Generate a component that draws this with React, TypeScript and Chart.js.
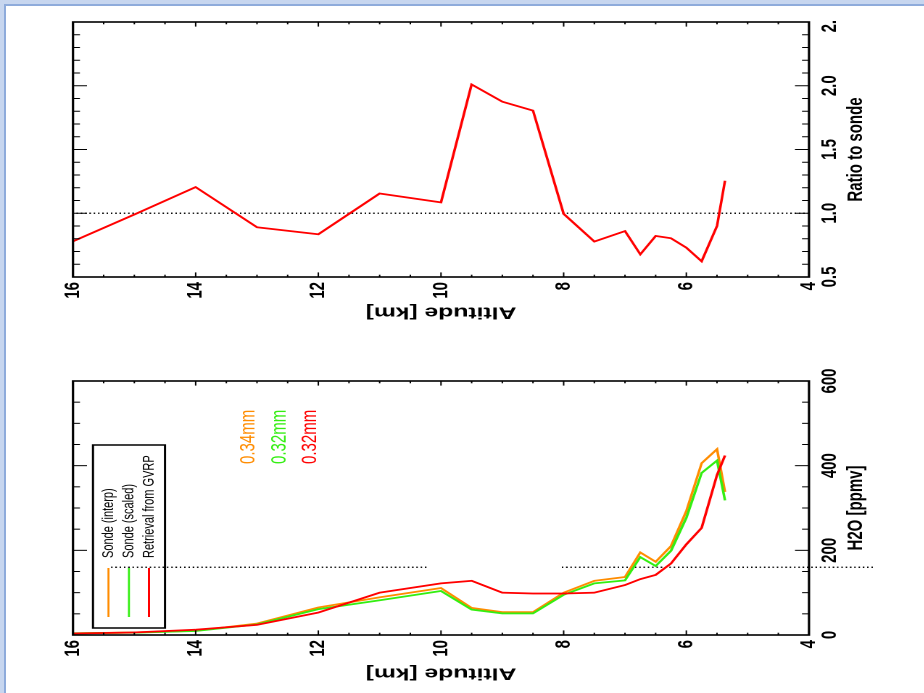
import React, { useEffect, useRef } from 'react';
import { Chart, registerables } from 'chart.js';

Chart.register(...registerables);

// ---------- data ----------
const altitudes = [16, 15, 14, 13, 12, 11, 10, 9.5, 9, 8.5, 8, 7.5, 7, 6.75, 6.5, 6.25, 6, 5.75, 5.5, 5.37];
const sondeInterp = [4, 6, 10, 27, 65, 89, 111, 64, 54, 54, 100, 128, 137, 195, 173, 210, 293, 406, 439, 338];
const sondeScaled = [4, 5.5, 9.5, 25, 61, 82, 104, 60, 51, 51, 95, 122, 129, 184, 163, 199, 277, 383, 412, 318];
const retrieval = [3.5, 6, 12.5, 24, 53, 100, 122, 128, 100, 98, 98, 100, 118, 132, 142, 169, 214, 253, 378, 424];
const ratioToSonde = [0.78, 0.99, 1.205, 0.89, 0.835, 1.155, 1.085, 2.01, 1.875, 1.805, 0.995, 0.778, 0.86, 0.678, 0.822, 0.804, 0.73, 0.623, 0.9, 1.255];

const seriesLabels = ['Sonde (interp)', 'Sonde (scaled)', 'Retrieval from GVRP'];
const columnTotals = ['0.34mm', '0.32mm', '0.32mm'];
const seriesColors = ['#ff8c00', '#33ee11', '#ff0000'];

const markerH2O = 160;
const markerSegmentA = [15.38, 10.22];
const markerSegmentB = [8.03, 2.92];
const ratioReference = 1.0;

const altAxis = { min: 4, max: 16, major: 2, minor: 0.5 };
const h2oAxis = { min: 0, max: 600, major: 200, minor: 50 };
const ratioAxis = { min: 0.5, max: 2.5, major: 0.5, minor: 0.1 };

// ---------- layout (rotated frame) ----------
const S = 1.45; // vertical stretch of the rotated frame
const OW = 693; // frame width (= page height)
const OH = Math.round(924 / S);
const dv = (xPage: number) => xPage / S; // page x -> frame y
const du = (yPage: number) => OW - yPage; // page y -> frame x

const PLOT_TOP = dv(73);
const PLOT_BOTTOM = dv(809);
const FONT = "'Liberation Sans', Arial, Helvetica, sans-serif";

const TICK_SIZE = 15;
const XTITLE_SIZE = 15;
const YTITLE_SIZE = 17;

const LEFT_W = 340;
const RIGHT_X = 340;
const RIGHT_W = Math.round(du(20)) - RIGHT_X;

function idlBoxPlugin(xa: any, ya: any) {
  return {
    id: 'idlBox',
    afterDraw(chart: any) {
      const { ctx, chartArea: a, scales } = chart;
      const xs = scales.x;
      const ys = scales.y;
      ctx.save();
      ctx.strokeStyle = '#000';
      ctx.lineWidth = 1;
      const seg = (x1: number, y1: number, x2: number, y2: number) => {
        ctx.beginPath();
        ctx.moveTo(x1, y1);
        ctx.lineTo(x2, y2);
        ctx.stroke();
      };
      const nx = Math.round((xa.max - xa.min) / xa.minor);
      for (let i = 0; i <= nx; i++) {
        const v = xa.min + i * xa.minor;
        const r = v / xa.major;
        const major = Math.abs(r - Math.round(r)) < 1e-6;
        const L = major ? 14 / S : 7 / S;
        const px = xs.getPixelForValue(v);
        seg(px, a.bottom, px, a.bottom - L);
        seg(px, a.top, px, a.top + L);
      }
      const ny = Math.round((ya.max - ya.min) / ya.minor);
      for (let i = 0; i <= ny; i++) {
        const v = ya.min + i * ya.minor;
        const r = v / ya.major;
        const major = Math.abs(r - Math.round(r)) < 1e-6;
        const L = major ? 4.6 : 2.3;
        const py = ys.getPixelForValue(v);
        seg(a.left, py, a.left + L, py);
        seg(a.right, py, a.right - L, py);
      }
      ctx.lineWidth = 1.6;
      ctx.strokeRect(a.left, a.top, a.right - a.left, a.bottom - a.top);
      ctx.restore();
    },
  };
}

const legendPlugin = {
  id: 'idlLegend',
  beforeDatasetsDraw(chart: any) {
    const { ctx } = chart;
    ctx.save();
    const bx = du(628);
    const by = dv(93);
    const bw = du(445) - du(628);
    const bh = dv(165) - dv(93);
    ctx.fillStyle = '#fff';
    ctx.fillRect(bx, by, bw, bh);
    ctx.strokeStyle = '#000';
    ctx.lineWidth = 1.5;
    ctx.strokeRect(bx, by, bw, bh);
    const rows = [dv(108.5), dv(129), dv(149)];
    ctx.font = `11px ${FONT}`;
    ctx.textBaseline = 'middle';
    ctx.textAlign = 'left';
    seriesLabels.forEach((label, i) => {
      ctx.strokeStyle = seriesColors[i];
      ctx.lineWidth = 1.4;
      ctx.beginPath();
      ctx.moveTo(du(617), rows[i]);
      ctx.lineTo(du(568), rows[i]);
      ctx.stroke();
      ctx.fillStyle = '#000';
      ctx.fillText(label, du(558), rows[i]);
    });
    // column totals
    const tRows = [dv(248.7), dv(279.5), dv(310)];
    ctx.font = `15px ${FONT}`;
    columnTotals.forEach((t, i) => {
      ctx.fillStyle = seriesColors[i];
      ctx.fillText(t, du(464), tRows[i]);
    });
    ctx.restore();
  },
};

function line(data: { x: number; y: number }[], color: string, width: number, extra: any = {}) {
  return {
    data,
    borderColor: color,
    backgroundColor: color,
    borderWidth: width,
    pointRadius: 0,
    showLine: true,
    fill: false,
    tension: 0,
    ...extra,
  };
}

function makeOptions(cfg: {
  xa: any;
  xTitle: string;
  xFmt: (v: number) => string;
  yAxisWidth: number;
  yTitleCenter: number;
  padRight: number;
}) {
  const yTitleFont = { family: FONT, size: YTITLE_SIZE, weight: 'bold' as const };
  const xTitleFont = { family: FONT, size: XTITLE_SIZE, weight: 'bold' as const };
  const tickFont = { family: FONT, size: TICK_SIZE, weight: 'bold' as const };
  return {
    responsive: false,
    maintainAspectRatio: false,
    animation: false as const,
    devicePixelRatio: 2,
    events: [],
    layout: { padding: { left: 0, top: PLOT_TOP, right: cfg.padRight, bottom: 0 } },
    plugins: { legend: { display: false }, tooltip: { enabled: false } },
    scales: {
      x: {
        type: 'linear' as const,
        position: 'bottom' as const,
        min: cfg.xa.min,
        max: cfg.xa.max,
        grid: { display: false, drawTicks: false },
        border: { display: false },
        ticks: {
          stepSize: cfg.xa.major,
          autoSkip: false,
          maxRotation: 0,
          minRotation: 0,
          padding: dv(830) - PLOT_BOTTOM - TICK_SIZE * 0.6,
          color: '#000',
          font: tickFont,
          callback: (v: any) => cfg.xFmt(Number(v)),
        },
        title: {
          display: true,
          text: cfg.xTitle,
          color: '#000',
          font: xTitleFont,
          padding: { top: 0, bottom: OH - dv(856) - XTITLE_SIZE * 0.6 },
        },
        afterFit: (s: any) => {
          s.height = OH - PLOT_BOTTOM;
          s.paddingLeft = 0;
          s.paddingRight = 0;
        },
      },
      y: {
        type: 'linear' as const,
        position: 'left' as const,
        min: altAxis.min,
        max: altAxis.max,
        grid: { display: false, drawTicks: false },
        border: { display: false },
        ticks: {
          stepSize: altAxis.major,
          autoSkip: false,
          padding: 5,
          color: '#000',
          font: tickFont,
        },
        title: {
          display: true,
          text: 'Altitude [km]',
          color: '#000',
          font: yTitleFont,
          padding: { top: cfg.yTitleCenter - YTITLE_SIZE * 0.6, bottom: 0 },
        },
        afterFit: (s: any) => {
          s.width = cfg.yAxisWidth;
          s.paddingTop = 0;
          s.paddingBottom = 0;
        },
      },
    },
  };
}

export default function App() {
  const leftRef = useRef<HTMLCanvasElement>(null);
  const rightRef = useRef<HTMLCanvasElement>(null);

  useEffect(() => {
    const pts = (vals: number[]) => altitudes.map((a, i) => ({ x: vals[i], y: a }));
    const dash = { borderDash: [1.5 / S, 2.8 / S] };

    const left = new Chart(leftRef.current as HTMLCanvasElement, {
      type: 'scatter',
      data: {
        datasets: [
          line(pts(retrieval), seriesColors[2], 1.8),
          line(pts(sondeScaled), seriesColors[1], 1.8),
          line(pts(sondeInterp), seriesColors[0], 1.8),
          line(markerSegmentA.map((a) => ({ x: markerH2O, y: a })), '#000', 1.4, dash),
          line(markerSegmentB.map((a) => ({ x: markerH2O, y: a })), '#000', 1.4, { ...dash, clip: false }),
        ] as any,
      },
      options: makeOptions({
        xa: h2oAxis,
        xTitle: 'H2O [ppmv]',
        xFmt: (v) => String(Math.round(v)),
        yAxisWidth: du(635),
        yTitleCenter: 20,
        padRight: LEFT_W - du(381),
      }) as any,
      plugins: [legendPlugin, idlBoxPlugin(h2oAxis, altAxis)],
    });

    const right = new Chart(rightRef.current as HTMLCanvasElement, {
      type: 'scatter',
      data: {
        datasets: [
          line(pts(ratioToSonde), seriesColors[2], 1.8),
          line([{ x: ratioReference, y: altAxis.min }, { x: ratioReference, y: altAxis.max }], '#000', 1.4, dash),
        ] as any,
      },
      options: makeOptions({
        xa: ratioAxis,
        xTitle: 'Ratio to sonde',
        xFmt: (v) => v.toFixed(1),
        yAxisWidth: du(277) - RIGHT_X,
        yTitleCenter: du(312) - RIGHT_X,
        padRight: RIGHT_X + RIGHT_W - du(22),
      }) as any,
      plugins: [idlBoxPlugin(ratioAxis, altAxis)],
    });

    return () => {
      left.destroy();
      right.destroy();
    };
  }, []);

  const light = '#c7d6ef';
  const dark = '#8eabdb';

  return (
    <div style={{ position: 'fixed', left: 0, top: 0, width: 924, height: 693, background: '#fff', overflow: 'hidden' }}>
      <div
        style={{
          position: 'absolute',
          left: 0,
          top: 0,
          width: OW,
          height: OH,
          transformOrigin: '0 0',
          transform: `translate(0px, ${OW}px) rotate(-90deg) scale(1, ${S})`,
        }}
      >
        <canvas
          ref={leftRef}
          width={LEFT_W}
          height={OH}
          style={{ position: 'absolute', left: 0, top: 0, width: LEFT_W, height: OH }}
        />
        <canvas
          ref={rightRef}
          width={RIGHT_W}
          height={OH}
          style={{ position: 'absolute', left: RIGHT_X, top: 0, width: RIGHT_W, height: OH }}
        />
      </div>
      <div style={{ position: 'absolute', left: 0, top: 0, width: 924, height: 6, background: light }} />
      <div style={{ position: 'absolute', left: 0, top: 0, width: 6, height: 693, background: light }} />
      <div style={{ position: 'absolute', left: 4, top: 4, width: 920, height: 2, background: dark }} />
      <div style={{ position: 'absolute', left: 4, top: 4, width: 2, height: 689, background: dark }} />
    </div>
  );
}
